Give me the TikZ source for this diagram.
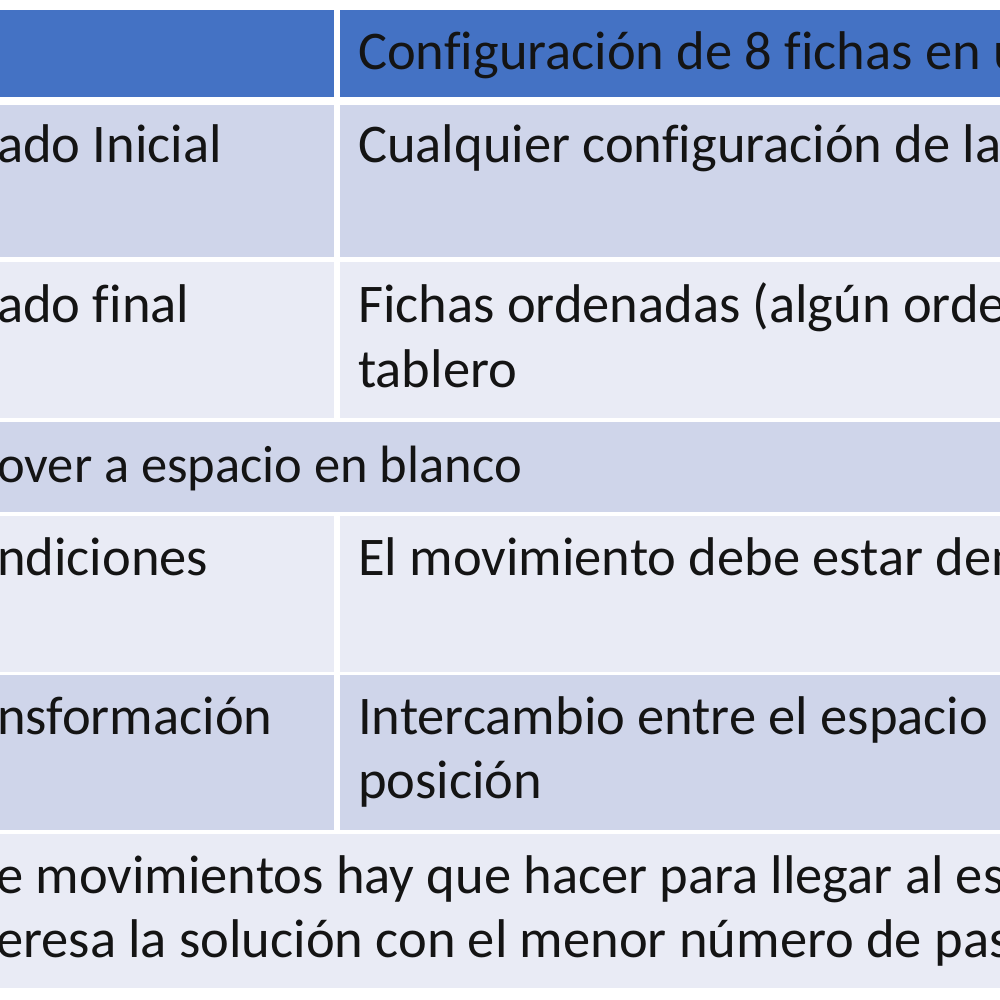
\documentclass[tikz,border=0pt]{standalone}
\usepackage{fontspec}
\setmainfont{Carlito}[Ligatures=NoCommon]
\definecolor{hdr}{HTML}{4472C4}
\definecolor{rowA}{HTML}{CFD5EA}
\definecolor{rowB}{HTML}{E9EBF5}
\definecolor{ink}{HTML}{141414}
\begin{document}
\begin{tikzpicture}[x=1pt,y=-1pt,
  cell/.style={anchor=north west,inner sep=0pt,outer sep=0pt,draw=none},
  txt/.style={anchor=base west,inner sep=0pt,text=ink,font=\fontsize{54.5}{64}\selectfont},
  txtn/.style={txt,font=\fontsize{52.5}{64}\selectfont}]
\useasboundingbox (0,0) rectangle (1000,1000);
\fill[white] (0,0) rectangle (1000,1000);
\clip (0,0) rectangle (1000,1000);
% cells
\node[cell,fill=hdr,minimum width=334pt,minimum height=87pt] (h1) at (0,10) {};
\node[cell,fill=hdr,minimum width=660pt,minimum height=87pt] (h2) at (340,10) {};
\node[cell,fill=rowA,minimum width=334pt,minimum height=152pt] (a1) at (0,105) {};
\node[cell,fill=rowA,minimum width=660pt,minimum height=152pt] (a2) at (340,105) {};
\node[cell,fill=rowB,minimum width=334pt,minimum height=156pt] (b1) at (0,262) {};
\node[cell,fill=rowB,minimum width=660pt,minimum height=156pt] (b2) at (340,262) {};
\node[cell,fill=rowA,minimum width=1000pt,minimum height=90pt] (c1) at (0,422) {};
\node[cell,fill=rowB,minimum width=334pt,minimum height=156pt] (d1) at (0,516) {};
\node[cell,fill=rowB,minimum width=660pt,minimum height=156pt] (d2) at (340,516) {};
\node[cell,fill=rowA,minimum width=334pt,minimum height=155pt] (e1) at (0,675) {};
\node[cell,fill=rowA,minimum width=660pt,minimum height=155pt] (e2) at (340,675) {};
\node[cell,fill=rowB,minimum width=1000pt,minimum height=154pt] (f1) at (0,834) {};
% texts
\node[txt] (th2) at (358,70) {Configuración de 8 fichas en u};
\node[txt] (ta1) at (-3,163) {ado Inicial};
\node[txt] (ta2) at (358,163) {Cualquier configuración de las};
\node[txt] (tb1) at (-3,322) {ado final};
\node[txt] (tb2) at (358,322) {Fichas ordenadas (algún orden};
\node[txt] (tb3) at (358,387) {tablero};
\node[txtn] (tc1) at (-3,482) {over a espacio en blanco};
\node[txt] (td1) at (-3,575) {ndiciones};
\node[txt] (td2) at (358,575) {El movimiento debe estar den};
\node[txt] (te1) at (-3,734) {nsformación};
\node[txt] (te2) at (358,734) {Intercambio entre el espacio e};
\node[txt] (te3) at (358,798) {posición};
\node[txt] (tf1) at (-4,893) {e movimientos hay que hacer para llegar al es};
\node[txt] (tf2) at (-4,957) {eresa la solución con el menor número de pas};
\end{tikzpicture}
\end{document}
